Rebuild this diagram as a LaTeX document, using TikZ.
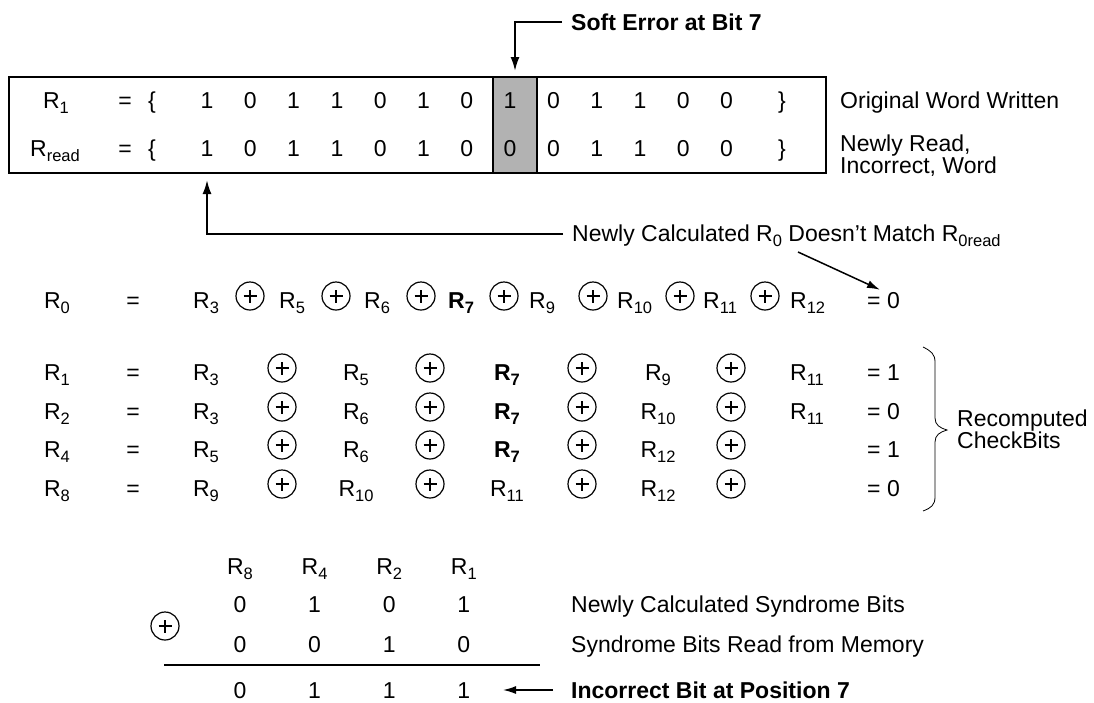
\documentclass[tikz,border=0pt]{standalone}
\usepackage{fontspec}
\setmainfont{Liberation Sans}
\usetikzlibrary{arrows.meta}
\newcommand{\sbs}[1]{\raisebox{-5pt}{\fontsize{16.5}{16.5}\selectfont #1}}
\newcommand{\Rx}[1]{R\sbs{#1}}
\newcommand{\Rb}[1]{\textbf{R\sbs{#1}}}
\begin{document}
\begin{tikzpicture}[x=1pt,y=-1pt,
  every node/.style={inner sep=0pt, font=\fontsize{23}{22}\selectfont},
  txt/.style={anchor=base},
  lt/.style={anchor=base west},
  bold/.style={font=\fontsize{23}{22}\selectfont\bfseries},
  arr/.style={line width=2pt, -{Latex[length=14pt,width=9pt]}},
  thinarr/.style={line width=1.5pt, -{Latex[length=13pt,width=8pt]}},
  oplus/.style={circle, draw, line width=1.2pt, minimum size=28pt, inner sep=0pt,
    path picture={\draw[line width=1.6pt]
      ([xshift=-6.5pt]path picture bounding box.center) -- ([xshift=6.5pt]path picture bounding box.center)
      ([yshift=-6.5pt]path picture bounding box.center) -- ([yshift=6.5pt]path picture bounding box.center);}}]
\useasboundingbox (0,0) rectangle (1094,702);

% ---------- top word box ----------
\node[lt, bold] (soft) at (571,30) {Soft Error at Bit 7};
\node[fill=black!30, draw, line width=2pt, minimum width=44pt, minimum height=96pt, anchor=north west] (gray) at (492,76) {};
\node[draw, line width=2pt, minimum width=817pt, minimum height=96pt, anchor=north west] (box) at (8,76) {};
\coordinate (sel) at (562,22);
\draw[arr, shorten >=5pt] (sel) -| (gray.north);

\node[txt] (la) at (56,108) {\Rx{1}};
\node[txt] (lb) at (55,156) {R\sbs{read}};
\node[txt] (ea) at (125,108) {=};
\node[txt] (eb) at (125,156) {=};
\node[txt] (oba) at (152,108) {\{};
\node[txt] (obb) at (152,156) {\{};
\foreach \b [count=\i from 0] in {1,0,1,1,0,1,0,1,0,1,1,0,0}
  \node[txt] (wa\i) at ({207+43.3*\i},108) {\b};
\foreach \b [count=\i from 0] in {1,0,1,1,0,1,0,0,0,1,1,0,0}
  \node[txt] (wb\i) at ({207+43.3*\i},156) {\b};
\node[txt] (cba) at (782,108) {\}};
\node[txt] (cbb) at (782,156) {\}};
\node[lt] (orig) at (840,108) {Original Word Written};
\node[anchor=north west, align=left] (nread) at (840,134.5) {Newly Read,\\Incorrect, Word};

% ---------- R0 mismatch ----------
\node[lt] (nc) at (572,241) {Newly Calculated R\sbs{0} Doesn’t Match R\sbs{0read}};
\coordinate (ncl) at (563,234);
\draw[arr, shorten >=6pt] (ncl) -| (wb0 |- box.south);

\node[txt] (r0l) at (57,308) {\Rx{0}};
\node[txt] (r0e) at (133,308) {=};
\node[lt] (r0a) at (193,308) {\Rx{3}};
\node[oplus] (r0o1) at (250,296) {};
\node[lt] (r0b) at (279,308) {\Rx{5}};
\node[oplus] (r0o2) at (336,296) {};
\node[lt] (r0c) at (364,308) {\Rx{6}};
\node[oplus] (r0o3) at (421,296) {};
\node[lt] (r0d) at (448,308) {\Rb{7}};
\node[oplus] (r0o4) at (504,296) {};
\node[lt] (r0f) at (529,308) {\Rx{9}};
\node[oplus] (r0o5) at (593,296) {};
\node[lt] (r0g) at (617,308) {\Rx{10}};
\node[oplus] (r0o6) at (680,296) {};
\node[lt] (r0h) at (703,308) {\Rx{11}};
\node[oplus] (r0o7) at (765,296) {};
\node[lt] (r0i) at (790,308) {\Rx{12}};
\node[lt] (r0v) at (867,308) {= 0};
\coordinate (dg) at (798,252);
\draw[thinarr] (dg) -- ([xshift=13pt,yshift=2pt]r0v.north west);

% ---------- recomputed check bits ----------
\foreach \k/\yy/\la/\ca/\cb/\cc/\cd/\vv in {
  1/372/{\Rx{1}}/{\Rx{3}}/{\Rx{5}}/{\Rb{7}}/{\Rx{9}}/1,
  2/411/{\Rx{2}}/{\Rx{3}}/{\Rx{6}}/{\Rb{7}}/{\Rx{10}}/0,
  3/449/{\Rx{4}}/{\Rx{5}}/{\Rx{6}}/{\Rb{7}}/{\Rx{12}}/1,
  4/488/{\Rx{8}}/{\Rx{9}}/{\Rx{10}}/{\Rx{11}}/{\Rx{12}}/0}{
  \node[txt] (cl\k) at (57,\yy+8) {\la};
  \node[txt] (ce\k) at (133,\yy+8) {=};
  \node[txt] (ca\k) at (206,\yy+8) {\ca};
  \node[oplus] (co\k a) at (282,\yy-4) {};
  \node[txt] (cb\k) at (356,\yy+8) {\cb};
  \node[oplus] (co\k b) at (430,\yy-4) {};
  \node[txt] (cc\k) at (507,\yy+8) {\cc};
  \node[oplus] (co\k c) at (582,\yy-4) {};
  \node[txt] (cd\k) at (658,\yy+8) {\cd};
  \node[oplus] (co\k d) at (731,\yy-4) {};
  \node[lt] (cv\k) at (867,\yy+8) {= \vv};
}
\node[txt] (cx1) at (807,380) {\Rx{11}};
\node[txt] (cx2) at (807,419) {\Rx{11}};

\draw[line width=0.8pt] (923,347) .. controls (931,351) and (935,354) .. (935,362)
  -- (935,418) .. controls (935,425) and (940,428) .. (947,430)
  .. controls (940,432) and (935,435) .. (935,442)
  -- (935,497) .. controls (935,505) and (931,508) .. (923,511);
\node[anchor=west, align=left] (rc) at (957,429) {Recomputed\\CheckBits};

% ---------- syndrome ----------
\foreach \t [count=\i] in {8,4,2,1}
  \node[txt] (sh\i) at ({240+74.6*(\i-1)},574) {\Rx{\t}};
\foreach \b [count=\i] in {0,1,0,1}
  \node[txt] (sa\i) at ({240+74.6*(\i-1)},612) {\b};
\foreach \b [count=\i] in {0,0,1,0}
  \node[txt] (sb\i) at ({240+74.6*(\i-1)},652) {\b};
\foreach \b [count=\i] in {0,1,1,1}
  \node[txt] (sc\i) at ({240+74.6*(\i-1)},698) {\b};
\node[oplus] (so) at (165,626) {};
\coordinate (rl) at (164,665);
\coordinate (rr) at (540,665);
\draw[line width=2pt] (rl) -- (rr);
\node[lt] (t1) at (571,612) {Newly Calculated Syndrome Bits};
\node[lt] (t2) at (571,652) {Syndrome Bits Read from Memory};
\node[lt, bold] (t3) at (571,698) {Incorrect Bit at Position 7};
\coordinate (bal) at (553,690);
\coordinate (bat) at (503,690);
\draw[thinarr] (bal) -- (bat);
\end{tikzpicture}
\end{document}
